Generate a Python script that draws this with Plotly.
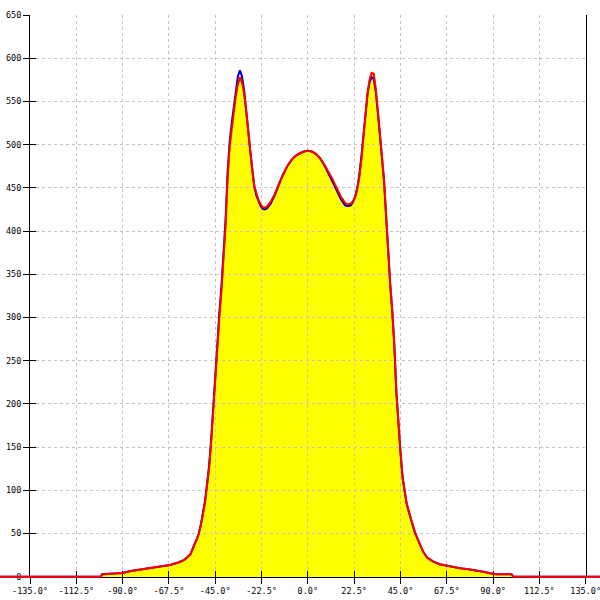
import plotly.graph_objects as go

# ---- data (angle in degrees, intensity) ----
red_x = [-180, -100.5, -100, -95, -90, -86, -80, -76, -72, -67, -63, -60, -57, -56, -55, -54, -53, -52, -51,
         -50, -49, -48, -47, -46, -45, -44, -43, -42, -41, -40, -39, -38, -37, -36, -35, -34, -33, -32,
         -31, -30, -29, -28, -27, -26, -25, -24, -23, -22, -21, -20, -18, -16, -14, -12, -10, -8, -6,
         -4, -2, 0, 2, 4, 6, 8, 10, 12, 14, 16, 18, 19, 20, 21, 22, 23, 24, 25, 26, 27, 28, 29, 30, 31,
         32, 33, 34, 35, 36, 37, 38, 39, 40, 41, 42, 43, 44, 45, 46, 47, 48, 50, 52, 54, 56, 58, 61, 64,
         66, 70, 74, 78, 83, 86, 88.5, 91.5, 99, 99.8, 180]
red_y = [0, 0, 2.8, 3.3, 4.2, 6.5, 8.5, 9.8, 11.5, 13.5, 16.5, 19.5, 26, 33, 38, 43, 50, 60, 72,
         85, 105, 125, 155, 193, 225, 265, 300, 330, 370, 405, 460, 497, 518, 538, 556, 570, 578, 572,
         560, 540, 515, 492, 470, 452, 443, 436, 431, 428, 427, 428, 434, 443, 455, 466, 475, 482, 487,
         490, 492, 493, 492, 489, 484, 477, 469, 460, 450, 440, 433, 431, 431, 432, 435, 439, 448, 462, 482,
         510, 540, 560, 575, 583, 582, 565, 540, 512, 490, 460, 420, 372, 340, 309, 270, 215, 175, 145,
         116, 100, 85, 68, 52, 40, 29, 22, 17.5, 14.5, 13.5, 11.5, 9.7, 8.5, 7, 5.5, 4, 2.8, 2.8, 0, 0]

blue_x = [-180, -100.5, -100, -95, -90, -86, -80, -76, -72, -67, -63, -60, -57, -56, -55, -54, -53, -52, -51,
          -50, -49, -48, -47, -46, -45, -44, -43, -42, -41, -40, -39, -38, -37, -36, -35, -34, -33, -32,
          -31, -30, -29, -28, -27, -26, -25, -24, -23, -22, -21, -20, -18, -16, -14, -12, -10, -8, -6,
          -4, -2, 0, 2, 4, 6, 8, 10, 12, 14, 16, 18, 19, 20, 21, 22, 23, 24, 25, 26, 27, 28, 29, 30, 31,
          32, 33, 34, 35, 36, 37, 38, 39, 40, 41, 42, 43, 44, 45, 46, 47, 48, 50, 52, 54, 56, 58, 61, 64,
          66, 70, 74, 78, 83, 86, 88.5, 91.5, 99, 99.8, 180]
blue_y = [0, 0, 2.8, 3.3, 4.2, 6.5, 8.5, 9.8, 11.5, 13.5, 16.5, 19.5, 26, 33, 38, 43, 50, 60, 73,
          87, 107, 128, 158, 197, 230, 270, 305, 336, 376, 412, 468, 503, 525, 545, 565, 579, 586, 579,
          564, 543, 517, 493, 470, 451, 441, 434, 429, 426, 425, 426, 432, 442, 454, 466, 475, 482, 487,
          490, 492, 493, 492, 489, 484, 476, 467, 457, 447, 437, 430, 429, 429, 430, 434, 440, 450, 465, 486,
          512, 540, 559, 572, 578, 576, 561, 537, 510, 488, 458, 418, 370, 338, 307, 268, 213, 174, 144,
          115, 99, 84, 67, 51, 40, 29, 22, 17.5, 14.5, 13.5, 11.5, 9.7, 8.5, 7, 5.5, 4, 2.8, 2.8, 0, 0]

x_ticks = [-135, -112.5, -90, -67.5, -45, -22.5, 0, 22.5, 45, 67.5, 90, 112.5, 135]
y_ticks = [0, 50, 100, 150, 200, 250, 300, 350, 400, 450, 500, 550, 600, 650]
x_tick_text = [f"{v:.1f}°" for v in x_ticks]

# ---- geometry ----
W = H = 600
fx0, fx1 = 30 / W, 585.7 / W           # frame domain (x)
fy0, fy1 = (H - 576.7) / H, (H - 15) / H  # frame domain (y)
xr = [-135, 135]
yr = [0, 650]
ppx = (fx1 - fx0) * W / (xr[1] - xr[0])
ppy = (fy1 - fy0) * H / (yr[1] - yr[0])
full_xr = [xr[0] - fx0 * W / ppx, xr[1] + (1 - fx1) * W / ppx]
full_yr = [yr[0] - fy0 * H / ppy, yr[1] + (1 - fy1) * H / ppy]

font = dict(family="DejaVu Sans Mono", size=8.5, color="#000000")

fig = go.Figure()
# fill under the red curve (bottom subplot)
fig.add_trace(go.Scatter(x=red_x, y=red_y, mode="lines", fill="tozeroy",
                         fillcolor="#ffff00", line=dict(width=0, color="rgba(0,0,0,0)"),
                         xaxis="x", yaxis="y", hoverinfo="skip", showlegend=False))
# frame placeholder trace
fig.add_trace(go.Scatter(x=[0], y=[0], mode="markers", marker=dict(opacity=0),
                         xaxis="x2", yaxis="y2", hoverinfo="skip", showlegend=False))
# lines on top subplot
fig.add_trace(go.Scatter(x=blue_x, y=blue_y, mode="lines", line=dict(color="#0000cc", width=2),
                         xaxis="x3", yaxis="y3", showlegend=False))
fig.add_trace(go.Scatter(x=red_x, y=red_y, mode="lines", line=dict(color="#ff0000", width=2),
                         xaxis="x3", yaxis="y3", showlegend=False))
# inside-tick overlay placeholder
fig.add_trace(go.Scatter(x=[0], y=[0], mode="markers", marker=dict(opacity=0),
                         xaxis="x4", yaxis="y4", hoverinfo="skip", showlegend=False))

hidden = dict(visible=False, showgrid=False, zeroline=False, automargin=False)
fig.update_layout(
    width=W, height=H,
    margin=dict(l=0, r=0, t=0, b=0, autoexpand=False),
    paper_bgcolor="white", plot_bgcolor="rgba(0,0,0,0)",
    xaxis=dict(domain=[0, 1], range=full_xr, anchor="y", **hidden),
    yaxis=dict(domain=[0, 1], range=full_yr, anchor="x", **hidden),
    xaxis3=dict(domain=[0, 1], range=full_xr, anchor="y3", **hidden),
    yaxis3=dict(domain=[0, 1], range=full_yr, anchor="x3", **hidden),
    xaxis2=dict(domain=[fx0, fx1], range=xr, anchor="y2", automargin=False,
                tickmode="array", tickvals=x_ticks, ticktext=x_tick_text,
                ticklabeloverflow="allow",
                ticks="outside", ticklen=6, tickcolor="black", tickwidth=1,
                showline=True, linecolor="black", linewidth=1,
                showgrid=True, gridcolor="#c4c4c4", gridwidth=1, griddash="3px,3px",
                zeroline=False, tickfont=font),
    yaxis2=dict(domain=[fy0, fy1], range=yr, anchor="x2", automargin=False,
                tickmode="array", tickvals=y_ticks, ticklabeloverflow="allow",
                ticks="outside", ticklen=6, tickcolor="black", tickwidth=1,
                showline=True, linecolor="black", linewidth=1, mirror=True,
                showgrid=True, gridcolor="#c4c4c4", gridwidth=1, griddash="3px,3px",
                zeroline=False, tickfont=font),
    xaxis4=dict(overlaying="x2", range=xr, anchor="y2", side="bottom", automargin=False,
                tickmode="array", tickvals=x_ticks, showticklabels=False,
                ticks="inside", ticklen=6, tickcolor="black", tickwidth=1,
                showgrid=False, zeroline=False, showline=False),
    yaxis4=dict(overlaying="y2", range=yr, anchor="x2", side="left", automargin=False,
                tickmode="array", tickvals=y_ticks, showticklabels=False,
                ticks="inside", ticklen=6, tickcolor="black", tickwidth=1,
                showgrid=False, zeroline=False, showline=False),
)

fig.write_html("out.html", config={"displayModeBar": False},
               post_script="document.body.style.margin='0';document.body.style.overflow='hidden';")
